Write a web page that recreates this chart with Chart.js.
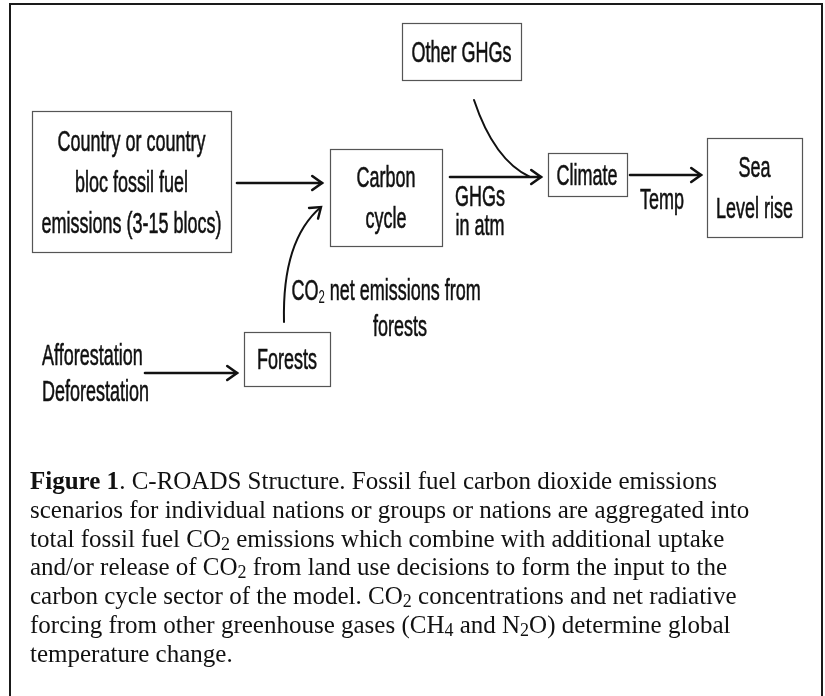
<!DOCTYPE html>
<html>
<head>
<meta charset="utf-8">
<script src="https://cdn.jsdelivr.net/npm/chart.js@4/dist/chart.umd.min.js"></script>
<style>
  html, body { margin: 0; padding: 0; background: #fff; }
  #wrap { position: relative; width: 825px; height: 696px; overflow: hidden; }
  #frame { position: absolute; left: 9px; top: 3px; width: 810px; height: 760px; border: 2px solid #1a1a1a; border-bottom: none; }
  #diagram { position: absolute; left: 0; top: 0; }
  #caption { position: absolute; left: 30px; top: 467px; font-family: "Liberation Serif", "DejaVu Serif", serif; font-size: 25px; line-height: 28.8px; color: #111; }
  #caption div { white-space: nowrap; }
  #caption sub { font-size: 0.72em; vertical-align: -0.15em; line-height: 0; }
</style>
</head>
<body>
<div id="wrap">
  <div id="frame"></div>
  <canvas id="diagram" width="825" height="696"></canvas>
  <div id="caption">
    <div><b>Figure 1</b>. C-ROADS Structure. Fossil fuel carbon dioxide emissions</div>
    <div>scenarios for individual nations or groups or nations are aggregated into</div>
    <div>total fossil fuel CO<sub>2</sub> emissions which combine with additional uptake</div>
    <div>and/or release of CO<sub>2</sub> from land use decisions to form the input to the</div>
    <div>carbon cycle sector of the model. CO<sub>2</sub> concentrations and net radiative</div>
    <div>forcing from other greenhouse gases (CH<sub>4</sub> and N<sub>2</sub>O) determine global</div>
    <div>temperature change.</div>
  </div>
</div>
<script>
// boxes of the flow diagram (centre x, centre y, width, height in page units)
var nodeLabels = [
  ["Country or country", "bloc fossil fuel", "emissions (3-15 blocs)"],
  ["Carbon", "cycle"],
  ["Other GHGs"],
  ["Climate"],
  ["Sea", "Level rise"],
  ["Forests"]
]
var nodeX = [131.5, 386, 461.5, 587, 754.5, 287]
var nodeY = [181.5, 197.5, 51.5, 174.5, 187.5, 359]
var nodeW = [199, 112, 119, 79, 95, 86]
var nodeH = [141, 97, 57, 43, 99, 54]

// straight arrows [x0, y0, x1, y1]
var arrows = [
  [237, 183, 322, 183],
  [450, 177, 541, 177],
  [630, 175, 701, 175],
  [145, 373, 237, 373]
]
// curved arrows [x0, y0, cx, cy, x1, y1, head]
var curves = [
  [474, 100, 494, 160, 530, 177, 0],
  [284, 322, 282, 240, 321, 207, 1]
]

// free labels
var freeText = ["GHGs", "in atm", "Temp", "net emissions from", "forests", "Afforestation", "Deforestation"]
var freeX = [480, 480, 662, 389, 400, 42, 42]
var freeY = [198, 227, 201, 292, 328, 357, 393]
var freeAlign = ["center", "center", "center", "center", "center", "left", "left"]

var FONT = '30px "Liberation Sans", Arial, sans-serif'
var SQUEEZE = 0.6

function squeezedText(c, txt, x, y, align){
  c.save()
  c.font = FONT
  var w = c.measureText(txt).width * SQUEEZE
  var left = align === 'left' ? x : x - w / 2
  c.translate(left, y)
  c.scale(SQUEEZE, 1)
  c.textAlign = 'left'
  c.textBaseline = 'middle'
  c.lineWidth = 0.6
  c.strokeStyle = '#111'
  c.fillText(txt, 0, 0)
  c.strokeText(txt, 0, 0)
  c.restore()
  return w
}

function head(c, x, y, ang){
  var len = 12, spread = 0.62
  c.beginPath()
  c.moveTo(x - len * Math.cos(ang - spread), y - len * Math.sin(ang - spread))
  c.lineTo(x, y)
  c.lineTo(x - len * Math.cos(ang + spread), y - len * Math.sin(ang + spread))
  c.stroke()
}

var flowPlugin = {
  id: 'flow',
  afterDatasetsDraw: function(chart){
    var c = chart.ctx, sx = chart.scales.x, sy = chart.scales.y
    var px = function(v){ return sx.getPixelForValue(v) }
    var py = function(v){ return sy.getPixelForValue(v) }
    c.save()
    c.fillStyle = '#111'
    // boxes
    for(var i in nodeLabels){
      var l = px(nodeX[i] - nodeW[i] / 2), r = px(nodeX[i] + nodeW[i] / 2)
      var t = py(nodeY[i] - nodeH[i] / 2), b = py(nodeY[i] + nodeH[i] / 2)
      c.strokeStyle = '#555'
      c.lineWidth = 1.2
      c.strokeRect(Math.round(l) + 0.5, Math.round(t) + 0.5, Math.round(r - l), Math.round(b - t))
      var lines = nodeLabels[i], step = 41
      var y0 = py(nodeY[i]) + 2 - (lines.length - 1) * step / 2
      for(var k = 0; k < lines.length; k++){
        squeezedText(c, lines[k], px(nodeX[i]), y0 + k * step, 'center')
      }
    }
    // arrows
    c.strokeStyle = '#111'
    c.lineWidth = 2.6
    c.lineCap = 'round'
    arrows.forEach(function(a){
      c.beginPath()
      c.moveTo(px(a[0]), py(a[1]))
      c.lineTo(px(a[2]), py(a[3]))
      c.stroke()
      head(c, px(a[2]), py(a[3]), Math.atan2(py(a[3]) - py(a[1]), px(a[2]) - px(a[0])))
    })
    c.lineWidth = 2
    curves.forEach(function(a){
      c.beginPath()
      c.moveTo(px(a[0]), py(a[1]))
      c.quadraticCurveTo(px(a[2]), py(a[3]), px(a[4]), py(a[5]))
      c.stroke()
      if(a[6]){
        c.lineWidth = 2.4
        head(c, px(a[4]), py(a[5]), Math.atan2(py(a[5]) - py(a[3]), px(a[4]) - px(a[2])))
      }
    })
    // labels
    for(var j in freeText){
      if(j == 3){
        // CO2 with a small subscript 2
        c.save()
        c.font = FONT
        var total = (c.measureText('CO').width + c.measureText(' ' + freeText[j]).width) * SQUEEZE
        c.restore()
        var x = px(freeX[j]) - total / 2 - 6
        x += squeezedText(c, 'CO', x, py(freeY[j]), 'left')
        c.save()
        c.font = '19px "Liberation Sans", Arial, sans-serif'
        c.translate(x, py(freeY[j]) + 6)
        c.scale(SQUEEZE, 1)
        c.textBaseline = 'middle'
        c.fillText('2', 0, 0)
        var sw = c.measureText('2').width * SQUEEZE
        c.restore()
        squeezedText(c, ' ' + freeText[j], x + sw, py(freeY[j]), 'left')
        continue
      }
      squeezedText(c, freeText[j], px(freeX[j]), py(freeY[j]), freeAlign[j])
    }
    c.restore()
  }
}

new Chart(document.getElementById('diagram'), {
  type: 'scatter',
  data: {
    datasets: [{
      data: nodeX.map(function(x, i){ return {x: x, y: nodeY[i]} }),
      pointRadius: 0,
      showLine: false
    }]
  },
  options: {
    responsive: false,
    devicePixelRatio: 1,
    animation: false,
    events: [],
    layout: {padding: 0},
    plugins: {legend: {display: false}, tooltip: {enabled: false}},
    scales: {
      x: {type: 'linear', min: 0, max: 825, display: false},
      y: {type: 'linear', min: 0, max: 696, reverse: true, display: false}
    }
  },
  plugins: [flowPlugin]
})
</script>
</body>
</html>
